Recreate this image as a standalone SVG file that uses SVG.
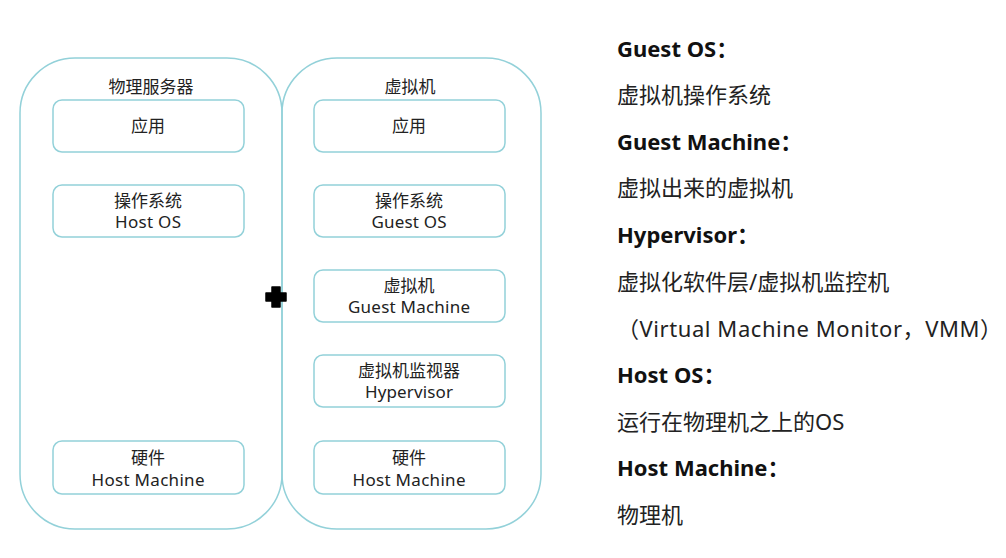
<svg xmlns="http://www.w3.org/2000/svg" width="1006" height="558" viewBox="0 0 1006 558">
<style>
.outer{fill:none;stroke:#93d1d9;stroke-width:1.5}
.box{fill:#fff;stroke:#93d1d9;stroke-width:1.5}
.t{font-family:"Noto Sans","Noto Sans CJK SC",sans-serif;font-size:17px;fill:#222;text-anchor:middle}
.h{font-family:"Noto Sans","Noto Sans CJK SC",sans-serif;font-size:22px;font-weight:bold;fill:#111}
.d{font-family:"Noto Sans","Noto Sans CJK SC",sans-serif;font-size:22px;fill:#222}
</style>
<rect width="1006" height="558" fill="#fff"/>
<g id="physical-server">
<rect class="outer" x="20" y="58" width="262" height="471" rx="55"/>
<text class="t" x="151" y="93">物理服务器</text>
</g>
<g id="virtual-machine">
<rect class="outer" x="282" y="58" width="259" height="471" rx="55"/>
<text class="t" x="410" y="93">虚拟机</text>
</g>
<g id="l-app"><rect class="box" x="53" y="100" width="191" height="52" rx="9"/><text class="t" x="148" y="132">应用</text></g>
<g id="l-os"><rect class="box" x="53" y="185" width="191" height="52" rx="9"/><text class="t" x="148" y="207">操作系统</text><text class="t" x="148" y="228" textLength="66">Host OS</text></g>
<g id="l-hw"><rect class="box" x="53" y="441" width="191" height="53" rx="9"/><text class="t" x="148" y="464">硬件</text><text class="t" x="148" y="486" textLength="113">Host Machine</text></g>
<g id="r-app"><rect class="box" x="314" y="100" width="191" height="52" rx="9"/><text class="t" x="409" y="132">应用</text></g>
<g id="r-os"><rect class="box" x="314" y="185" width="191" height="52" rx="9"/><text class="t" x="409" y="207">操作系统</text><text class="t" x="409" y="228" textLength="75">Guest OS</text></g>
<g id="r-vm"><rect class="box" x="314" y="270" width="191" height="52" rx="9"/><text class="t" x="409" y="292">虚拟机</text><text class="t" x="409" y="313" textLength="122">Guest Machine</text></g>
<g id="r-hyp"><rect class="box" x="314" y="355" width="191" height="52" rx="9"/><text class="t" x="409" y="377">虚拟机监视器</text><text class="t" x="409" y="398" textLength="88">Hypervisor</text></g>
<g id="r-hw"><rect class="box" x="314" y="441" width="191" height="53" rx="9"/><text class="t" x="409" y="464">硬件</text><text class="t" x="409" y="486" textLength="113">Host Machine</text></g>
<g id="plus"><path d="M272 287h8v6h6v8h-6v6h-8v-6h-6v-8h6z" fill="#000" stroke="#000" stroke-width="1.5" stroke-linejoin="round"/></g>
<g id="connectors"></g>
<g id="legend">
<text class="h" x="617" y="57">Guest OS：</text>
<text class="d" x="617" y="103">虚拟机操作系统</text>
<text class="h" x="617" y="150">Guest Machine：</text>
<text class="d" x="617" y="196">虚拟出来的虚拟机</text>
<text class="h" x="617" y="243">Hypervisor：</text>
<text class="d" x="617" y="290">虚拟化软件层/虚拟机监控机</text>
<text class="d" x="617" y="337" textLength="385" lengthAdjust="spacing">（Virtual Machine Monitor，VMM）</text>
<text class="h" x="617" y="383">Host OS：</text>
<text class="d" x="617" y="430">运行在物理机之上的OS</text>
<text class="h" x="617" y="476">Host Machine：</text>
<text class="d" x="617" y="523">物理机</text>
</g>
</svg>
